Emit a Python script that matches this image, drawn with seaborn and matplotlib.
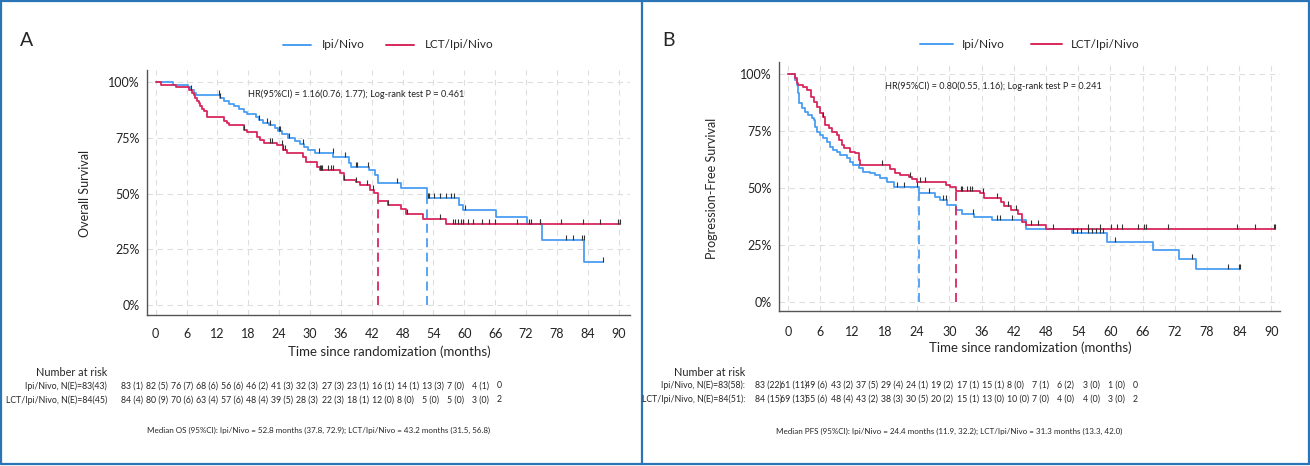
import numpy as np
import pandas as pd
import matplotlib
matplotlib.use("Agg")
import matplotlib.pyplot as plt
from matplotlib.lines import Line2D
from matplotlib.path import Path
import seaborn as sns

sns.set_style("white")
plt.rcParams["font.family"] = ["Lato", "DejaVu Sans"]

BLUE = "#4A9EF2"
RED = "#D8285C"
FRAME = "#2B74B5"

# ---- Panel A: overall survival (months, survival after each step) ----
os_ipi_t = [3.4, 6.3, 6.8, 7.4, 7.9, 12.5, 13.2, 14.3, 15.2, 16.1, 17.1, 17.7, 19.5, 20.0,
            20.8, 22.0, 23.2, 23.8, 24.6, 25.8, 27.0, 28.0, 28.8, 29.6, 31.0, 34.5, 37.5,
            38.0, 41.5, 42.6, 43.3, 47.7, 52.8, 59.0, 59.7, 66.1, 72.2, 75.1, 83.3]
os_ipi_s = [0.988, 0.976, 0.964, 0.952, 0.940, 0.928, 0.916, 0.903, 0.891, 0.879, 0.867,
            0.855, 0.842, 0.830, 0.818, 0.805, 0.792, 0.779, 0.765, 0.751, 0.737, 0.723,
            0.709, 0.695, 0.680, 0.665, 0.635, 0.620, 0.605, 0.585, 0.546, 0.523, 0.481,
            0.448, 0.426, 0.393, 0.363, 0.291, 0.194]
os_ipi_end = 87.0
os_ipi_cens = [6.8, 12.3, 12.5, 20.1, 21.7, 22.3, 23.9, 24.1, 26.0, 28.7, 31.8, 34.4, 36.8,
               38.9, 39.2, 41.3, 47.0, 52.9, 53.2, 54.1, 55.2, 56.4, 57.5, 57.9, 60.1, 72.5,
               74.8, 79.8, 81.2, 82.8, 83.2, 86.9]

os_lct_t = [1.0, 3.9, 6.4, 7.0, 7.4, 7.6, 8.0, 8.4, 8.7, 9.0, 9.4, 10.0, 13.2, 13.8, 14.2,
            17.1, 17.7, 19.7, 20.3, 21.1, 23.5, 24.8, 25.5, 28.7, 29.3, 31.3, 31.9, 35.8,
            36.6, 39.0, 39.7, 41.6, 42.4, 43.2, 45.2, 47.6, 48.7, 51.9, 56.4]
os_lct_s = [0.988, 0.976, 0.964, 0.952, 0.940, 0.927, 0.916, 0.904, 0.892, 0.880, 0.868,
            0.845, 0.826, 0.816, 0.807, 0.785, 0.777, 0.755, 0.740, 0.725, 0.718, 0.695,
            0.683, 0.665, 0.643, 0.620, 0.605, 0.590, 0.560, 0.553, 0.538, 0.516, 0.503,
            0.466, 0.448, 0.429, 0.408, 0.384, 0.363]
os_lct_end = 90.2
os_lct_cens = [17.2, 22.3, 22.6, 24.5, 24.8, 25.2, 31.9, 32.2, 32.4, 33.5, 34.0, 34.4, 36.6,
               39.0, 41.0, 42.2, 45.2, 48.9, 55.2, 57.7, 58.2, 58.7, 59.3, 59.7, 60.8, 61.6,
               63.5, 64.8, 65.9, 70.3, 72.9, 74.8, 78.7, 83.0, 86.4, 89.9, 90.2]

os_medians = [52.8, 43.2]

# ---- Panel B: progression-free survival ----
pfs_ipi_t = [1.25, 1.56, 1.87, 2.06, 2.49, 3.1, 3.7, 4.4, 4.7, 5.0, 5.3, 6.0, 6.5, 7.2, 7.8,
             8.4, 9.0, 9.7, 10.9, 11.5, 12.0, 13.1, 14.0, 15.3, 16.2, 17.1, 18.4, 19.6, 24.3,
             27.4, 28.3, 29.6, 31.2, 32.4, 34.6, 37.9, 44.2, 52.8, 59.4, 68.0, 72.8, 75.9]
pfs_ipi_s = [0.974, 0.952, 0.915, 0.871, 0.849, 0.835, 0.820, 0.805, 0.798, 0.769, 0.747,
             0.732, 0.718, 0.703, 0.681, 0.667, 0.659, 0.645, 0.630, 0.615, 0.601, 0.586,
             0.572, 0.564, 0.557, 0.542, 0.528, 0.503, 0.477, 0.462, 0.447, 0.425, 0.404,
             0.386, 0.374, 0.360, 0.319, 0.301, 0.265, 0.228, 0.189, 0.143]
pfs_ipi_end = 84.2
pfs_ipi_cens = [20.2, 21.6, 23.9, 26.2, 28.8, 29.3, 34.5, 38.9, 39.4, 41.6, 53.1, 53.8, 54.6,
                55.9, 56.5, 57.4, 58.1, 58.7, 60.9, 75.2, 82.0, 83.9, 84.2]

pfs_lct_t = [1.25, 1.56, 1.9, 2.8, 3.4, 4.2, 4.7, 5.3, 5.9, 6.5, 6.9, 7.5, 8.1, 9.0, 9.5,
             10.0, 10.4, 11.5, 12.5, 13.1, 13.4, 19.0, 19.9, 20.9, 22.4, 23.1, 24.0, 29.3,
             30.2, 31.3, 35.8, 36.4, 39.6, 40.2, 41.4, 42.7, 43.6, 44.2, 48.1]
pfs_lct_s = [0.981, 0.962, 0.952, 0.944, 0.930, 0.901, 0.879, 0.857, 0.827, 0.810, 0.776,
             0.762, 0.747, 0.732, 0.711, 0.689, 0.674, 0.659, 0.652, 0.623, 0.601, 0.582,
             0.564, 0.557, 0.550, 0.539, 0.528, 0.513, 0.505, 0.487, 0.477, 0.458, 0.440,
             0.421, 0.404, 0.386, 0.352, 0.338, 0.319]
pfs_lct_end = 90.7
pfs_lct_cens = [6.5, 17.4, 22.6, 24.6, 25.4, 32.1, 32.4, 33.3, 33.8, 34.3, 36.3, 38.9, 41.0,
                42.4, 45.3, 46.6, 49.4, 55.9, 58.1, 60.1, 61.3, 62.1, 65.2, 66.3, 66.7, 70.8,
                83.6, 87.0, 90.4, 90.7]

pfs_medians = [24.4, 31.3]

# ---- number at risk tables ----
os_ipi_risk = [83, 82, 76, 68, 56, 46, 41, 32, 27, 23, 16, 14, 13, 7, 4, 0]
os_ipi_ev = [1, 5, 7, 6, 6, 2, 3, 3, 3, 1, 1, 1, 3, 0, 1]
os_lct_risk = [84, 80, 70, 63, 57, 48, 39, 28, 22, 18, 12, 8, 5, 5, 3, 2]
os_lct_ev = [4, 9, 6, 4, 6, 4, 5, 3, 3, 1, 0, 0, 0, 0, 0]
pfs_ipi_risk = [83, 61, 49, 43, 37, 29, 24, 19, 17, 15, 8, 7, 6, 3, 1, 0]
pfs_ipi_ev = [22, 11, 6, 2, 5, 4, 1, 2, 1, 1, 0, 1, 2, 0, 0]
pfs_lct_risk = [84, 69, 55, 48, 43, 38, 30, 20, 15, 13, 10, 7, 4, 4, 3, 2]
pfs_lct_ev = [15, 13, 6, 4, 2, 3, 5, 2, 1, 0, 0, 0, 0, 0, 0]

month_ticks = list(range(0, 91, 6))
surv_ticks = [0, 0.25, 0.5, 0.75, 1.0]
surv_labels = ["0%", "25%", "50%", "75%", "100%"]

W, H = 1310, 466
fig = plt.figure(figsize=(W / 100, H / 100), dpi=100)
fig.patch.set_facecolor("white")


def fx(px):
    return px / W


def fy(py):
    return 1 - py / H


TICK = Path([[0, 0], [0, 1]], [Path.MOVETO, Path.LINETO])


def step_arrays(t, s, end):
    return np.r_[0.0, t, end], np.r_[1.0, s, s[-1]]


def draw_panel(box, xlim, ylim, curves, medians, hr, xpad):
    left, top, right, bottom = box
    ax = fig.add_axes([fx(left), fy(bottom), fx(right) - fx(left), fy(top) - fy(bottom)])
    ax.set_xlim(*xlim)
    ax.set_ylim(*ylim)
    ax.set_xticks(month_ticks)
    ax.set_yticks(surv_ticks)
    ax.set_yticklabels(surv_labels)
    ax.grid(True, color="#DEDEDE", linestyle=(0, (5, 4)), linewidth=0.8)
    for side in ["top", "right"]:
        ax.spines[side].set_visible(False)
    for side in ["left", "bottom"]:
        ax.spines[side].set_color("#555555")
        ax.spines[side].set_linewidth(1.0)
    ax.tick_params(axis="both", direction="out", length=3.5, width=0.8, color="#555555",
                   labelsize=9, labelcolor="#222222")
    ax.tick_params(axis="x", pad=xpad)
    ax.tick_params(axis="y", pad=2)

    for (t, s, end, cens, color), med in zip(curves, medians):
        tt, ss = step_arrays(t, s, end)
        df = pd.DataFrame({"time": tt, "surv": ss})
        sns.lineplot(data=df, x="time", y="surv", drawstyle="steps-post", estimator=None,
                     sort=False, color=color, linewidth=1.3, ax=ax)
        cy = ss[np.searchsorted(tt, cens, side="right") - 1]
        ax.plot(cens, cy, linestyle="none", marker=TICK, markersize=7, markeredgewidth=0.8,
                color="#333333", zorder=4)
        my = ss[np.searchsorted(tt, med, side="right") - 1]
        ax.plot([med, med], [0, my], color=color, linestyle=(0, (5, 3)), linewidth=1.3)

    ax.text(hr[0], hr[1], hr[2], fontsize=6.6, ha="left", va="center", color="#222222")
    ax.set_xlabel("")
    ax.set_ylabel("")
    return ax


# panel A
draw_panel((147, 70, 630, 315), (-1.69, 92.2), (-0.0448, 1.0538),
           [(os_ipi_t, os_ipi_s, os_ipi_end, os_ipi_cens, BLUE),
            (os_lct_t, os_lct_s, os_lct_end, os_lct_cens, RED)],
           os_medians,
           (17.95, 0.946, "HR(95%CI) = 1.16(0.76, 1.77); Log-rank test P = 0.461"), 5.5)

# panel B
draw_panel((779, 62, 1280, 311), (-1.73, 91.6), (-0.0395, 1.0526),
           [(pfs_ipi_t, pfs_ipi_s, pfs_ipi_end, pfs_ipi_cens, BLUE),
            (pfs_lct_t, pfs_lct_s, pfs_lct_end, pfs_lct_cens, RED)],
           pfs_medians,
           (18.0, 0.947, "HR(95%CI) = 0.80(0.55, 1.16); Log-rank test P = 0.241"), 7.5)

# axis titles
fig.text(fx(85), fy(193), "Overall Survival", rotation=90, ha="center", va="center", fontsize=9)
fig.text(fx(712), fy(188), "Progression-Free Survival", rotation=90, ha="center", va="center",
         fontsize=9)
fig.text(fx(389), fy(352), "Time since randomization (months)", ha="center", va="center",
         fontsize=9.5)
fig.text(fx(1030), fy(348), "Time since randomization (months)", ha="center", va="center",
         fontsize=9.5)

# panel letters
fig.text(fx(20), fy(40), "A", fontsize=14, ha="left", va="center")
fig.text(fx(662), fy(40), "B", fontsize=14, ha="left", va="center")

# legends
for (x0, x1, tx, color, label, y) in [(283, 311, 322, BLUE, "Ipi/Nivo", 45),
                                      (386, 414, 425, RED, "LCT/Ipi/Nivo", 45),
                                      (920, 953, 962, BLUE, "Ipi/Nivo", 44),
                                      (1031, 1062, 1071, RED, "LCT/Ipi/Nivo", 44)]:
    fig.add_artist(Line2D([fx(x0), fx(x1)], [fy(y), fy(y)], color=color, linewidth=1.4))
    fig.text(fx(tx), fy(y), label, fontsize=8.5, ha="left", va="center")


# number at risk
def risk_table(label_x, x0, x1, title_y, rows, med_x, med_y, med_text):
    fig.text(fx(label_x), fy(title_y), "Number at risk", fontsize=7.8, ha="right", va="center")
    xs = np.linspace(x0, x1, 16)
    for name, counts, events, y in rows:
        fig.text(fx(label_x), fy(y), name, fontsize=6.3, ha="right", va="center")
        for i, c in enumerate(counts):
            txt = f"{c} ({events[i]})" if i < len(events) else f"{c}"
            fig.text(fx(xs[i]), fy(y), txt, fontsize=6.3, ha="left", va="center")
    fig.text(fx(med_x), fy(med_y), med_text, fontsize=5.8, ha="center", va="center")


risk_table(107, 121, 497, 373,
           [("Ipi/Nivo, N(E)=83(43)", os_ipi_risk, os_ipi_ev, 386),
            ("LCT/Ipi/Nivo, N(E)=84(45)", os_lct_risk, os_lct_ev, 400)],
           319, 430,
           "Median OS (95%CI): Ipi/Nivo = 52.8 months (37.8, 72.9); "
           "LCT/Ipi/Nivo = 43.2 months (31.5, 56.8)")
risk_table(745, 755, 1133, 373,
           [("Ipi/Nivo, N(E)=83(58):", pfs_ipi_risk, pfs_ipi_ev, 385),
            ("LCT/Ipi/Nivo, N(E)=84(51):", pfs_lct_risk, pfs_lct_ev, 399)],
           949, 431,
           "Median PFS (95%CI): Ipi/Nivo = 24.4 months (11.9, 32.2); "
           "LCT/Ipi/Nivo = 31.3 months (13.3, 42.0)")

# frame around the two panels
for xs_, ys_ in [([1, 1309], [1, 1]), ([1, 1309], [464, 464]), ([1, 1], [1, 464]),
                 ([1309, 1309], [1, 464]), ([642, 642], [1, 464])]:
    fig.add_artist(Line2D([fx(v) for v in xs_], [fy(v) for v in ys_], color=FRAME,
                          linewidth=1.6))

fig.savefig("out.png", dpi=100)
